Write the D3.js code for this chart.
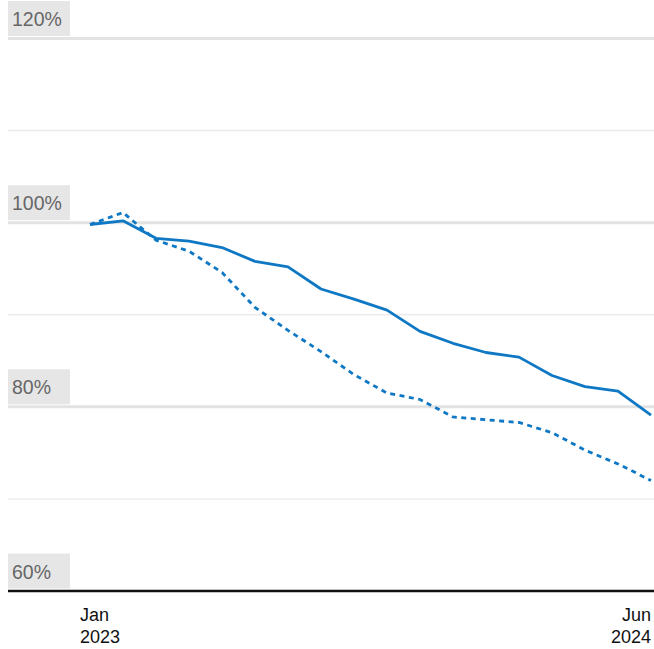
<!DOCTYPE html>
<html>
<head>
<meta charset="utf-8">
<script src="https://cdn.jsdelivr.net/npm/d3@7.9.0/dist/d3.min.js"></script>
<style>
  html, body { margin: 0; padding: 0; background: #fff; }
  svg { display: block; font-family: "Liberation Sans", Arial, sans-serif; }
</style>
</head>
<body>
<svg id="chart" width="654" height="649"></svg>
<script>
// months Jan 2023 .. Jun 2024
const months = ["2023-01","2023-02","2023-03","2023-04","2023-05","2023-06","2023-07","2023-08","2023-09",
  "2023-10","2023-11","2023-12","2024-01","2024-02","2024-03","2024-04","2024-05","2024-06"];
// solid series (% of Jan 2023)
const solidValues = [99.8, 100.2, 98.3, 98.0, 97.3, 95.8, 95.2, 92.8, 91.7, 90.5, 88.2, 86.9, 85.9, 85.4, 83.4, 82.2, 81.7, 79.1];
// dashed series
const dashedValues = [99.8, 101.1, 98.1, 96.9, 94.6, 90.8, 88.3, 86.0, 83.5, 81.5, 80.8, 78.9, 78.6, 78.3, 77.2, 75.3, 73.8, 72.0];
const majorTicks = [60, 80, 100, 120];
const minorTicks = [70, 90, 110];
const xTickLabels = [["Jan", "2023"], ["Jun", "2024"]];

const svg = d3.select("#chart");
const width = 654;
const left = 8;

const x = d3.scalePoint().domain(months).range([90, 651]);
const y = d3.scaleLinear().domain([60, 120]).range([591, 38.5]);

// minor gridlines
svg.append("g").selectAll("line")
  .data(minorTicks)
  .enter().append("line")
  .attr("x1", left).attr("x2", width)
  .attr("y1", d => y(d)).attr("y2", d => y(d))
  .attr("stroke", "#ececec").attr("stroke-width", 1.5);

// major gridlines + labels
const major = svg.append("g").selectAll("g")
  .data(majorTicks)
  .enter().append("g")
  .attr("transform", d => `translate(0,${y(d)})`);

major.filter(d => d !== 60).append("line")
  .attr("x1", left).attr("x2", width)
  .attr("stroke", "#e3e3e3").attr("stroke-width", 3);

major.append("rect")
  .attr("x", left).attr("y", -37.5)
  .attr("width", 62).attr("height", 35)
  .attr("fill", "#e6e6e6");

major.append("text")
  .attr("x", left + 4).attr("y", -12.5)
  .attr("font-size", 19.5)
  .attr("fill", "#666")
  .text(d => d + "%");

// lines
const line = (vals) => d3.line()
  .x((d, i) => x(months[i]))
  .y(d => y(d))(vals);

svg.append("path")
  .attr("d", line(dashedValues))
  .attr("fill", "none")
  .attr("stroke", "#0f78c4")
  .attr("stroke-width", 2.8)
  .attr("stroke-dasharray", "5,4.5");

svg.append("path")
  .attr("d", line(solidValues))
  .attr("fill", "none")
  .attr("stroke", "#0f78c4")
  .attr("stroke-width", 2.8)
  .attr("stroke-linejoin", "round");

// baseline
svg.append("line")
  .attr("x1", left).attr("x2", width)
  .attr("y1", y(60)).attr("y2", y(60))
  .attr("stroke", "#111").attr("stroke-width", 2.5);

// x labels
const xl = svg.append("g").selectAll("text")
  .data([months[0], months[months.length - 1]])
  .enter().append("text")
  .attr("x", (d, i) => i === 0 ? x(d) - 10 : x(d))
  .attr("y", 621)
  .attr("text-anchor", (d, i) => i === 0 ? "start" : "end")
  .attr("font-size", 18)
  .attr("fill", "#111");

xl.append("tspan").attr("x", (d, i) => i === 0 ? x(d) - 10 : x(d))
  .text((d, i) => xTickLabels[i][0]);
xl.append("tspan").attr("x", (d, i) => i === 0 ? x(d) - 10 : x(d))
  .attr("dy", 22)
  .text((d, i) => xTickLabels[i][1]);
</script>
</body>
</html>
